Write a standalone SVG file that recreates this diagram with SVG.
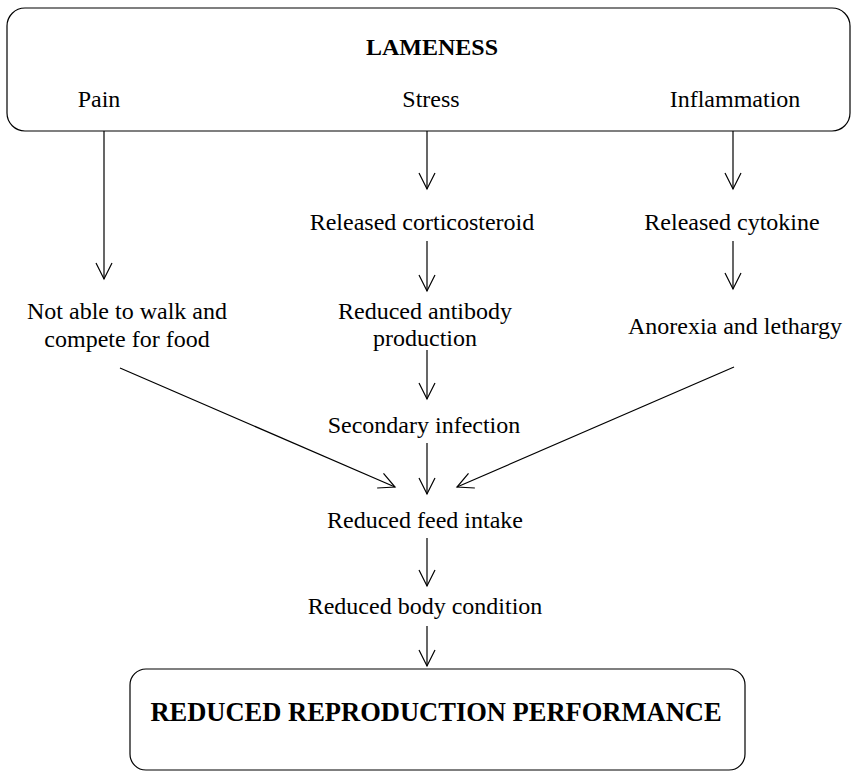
<svg xmlns="http://www.w3.org/2000/svg" width="858" height="774" viewBox="0 0 858 774">
<defs>
<marker id="v" viewBox="0 0 20 20" refX="18" refY="10" markerWidth="20" markerHeight="20" markerUnits="userSpaceOnUse" orient="auto">
<path d="M2,2 L18,10 L2,18" fill="none" stroke="#000" stroke-width="1.2"/>
</marker>
<style>
.t{font-family:"Liberation Serif","Times New Roman",serif;font-size:24px;fill:#000;text-anchor:middle}
.b{font-weight:bold}
.big{font-size:26.5px}
.box{fill:#fff;stroke:#000;stroke-width:1.2}
.c{stroke:#000;stroke-width:1.2;fill:none;marker-end:url(#v)}
</style>
</defs>
<rect width="858" height="774" fill="#fff"/>
<g id="lameness">
<rect class="box" x="7" y="8" width="843" height="123" rx="18"/>
<text class="t b" x="432" y="55">LAMENESS</text>
<text class="t" x="99" y="107">Pain</text>
<text class="t" x="431" y="107">Stress</text>
<text class="t" x="735" y="107">Inflammation</text>
</g>
<g id="corticosteroid"><text class="t" x="422" y="230">Released corticosteroid</text></g>
<g id="cytokine"><text class="t" x="732" y="230">Released cytokine</text></g>
<g id="notable"><text class="t" x="127" y="319">Not able to walk and</text><text class="t" x="127" y="347">compete for food</text></g>
<g id="antibody"><text class="t" x="425" y="319">Reduced antibody</text><text class="t" x="425" y="346">production</text></g>
<g id="anorexia"><text class="t" x="735" y="334">Anorexia and lethargy</text></g>
<g id="infection"><text class="t" x="424" y="433">Secondary infection</text></g>
<g id="feed"><text class="t" x="425" y="528">Reduced feed intake</text></g>
<g id="body"><text class="t" x="425" y="614">Reduced body condition</text></g>
<g id="performance">
<rect class="box" x="130" y="669" width="615" height="101" rx="16"/>
<text class="t b big" x="436" y="721">REDUCED REPRODUCTION PERFORMANCE</text>
</g>
<g id="connectors">
<line class="c" x1="104" y1="131" x2="104" y2="279"/>
<line class="c" x1="427" y1="131" x2="427" y2="189"/>
<line class="c" x1="733" y1="131" x2="733" y2="189"/>
<line class="c" x1="427" y1="241" x2="427" y2="291"/>
<line class="c" x1="733" y1="241" x2="733" y2="289"/>
<line class="c" x1="427" y1="350" x2="427" y2="399"/>
<line class="c" x1="427" y1="443" x2="427" y2="494"/>
<line class="c" x1="120" y1="368" x2="395" y2="487"/>
<line class="c" x1="734" y1="367" x2="457" y2="487"/>
<line class="c" x1="427" y1="538" x2="427" y2="586"/>
<line class="c" x1="427" y1="626" x2="427" y2="666"/>
</g>
</svg>
